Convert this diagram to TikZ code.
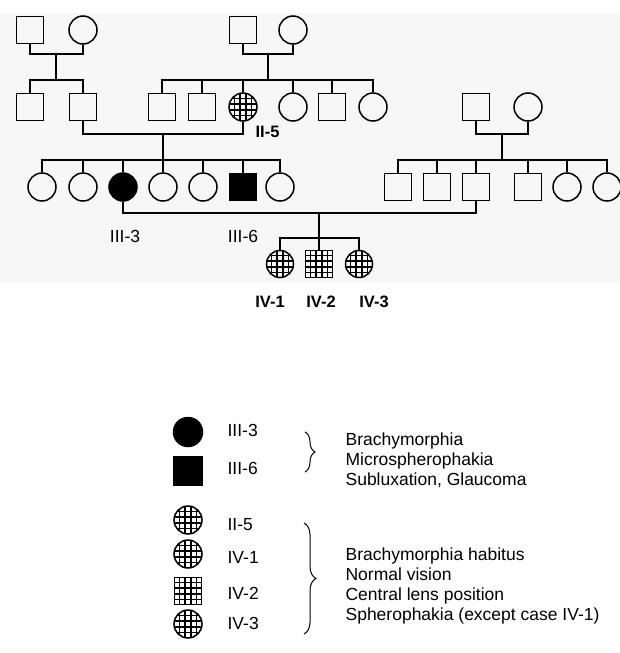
\documentclass[tikz,border=0pt]{standalone}
\usepackage{fontspec}
\setmainfont{Liberation Sans}
\usetikzlibrary{decorations.pathreplacing}
\begin{document}
\begin{tikzpicture}[x=1pt,y=-1pt,line width=1.2pt,
    male/.style={draw,rectangle,minimum size=27pt,inner sep=0pt,line width=1.5pt},
    female/.style={draw,circle,minimum size=28pt,inner sep=0pt,line width=1.5pt},
    hatch/.style={path picture={\foreach \k in {-1.5,-0.5,0.5,1.5}{
        \draw[line width=1.7pt] ([xshift=\k*5.6pt]path picture bounding box.north) -- ([xshift=\k*5.6pt]path picture bounding box.south);
        \draw[line width=1.7pt] ([yshift=\k*5.6pt]path picture bounding box.west) -- ([yshift=\k*5.6pt]path picture bounding box.east);}}},
    lab/.style={font=\fontsize{17.5}{20}\selectfont,inner sep=0pt,anchor=base},
    boldlab/.style={lab,font=\bfseries\fontsize{16.5}{20}\selectfont},
    curly/.style={decorate,decoration={brace,amplitude=#1},line width=1pt}]
  \fill[black!3] (0,13) rectangle (620,283);
  \useasboundingbox (0,0) rectangle (620,653);
  % generation I
  \node[male] (I1) at (30,30) {};
  \node[female] (I2) at (83,30) {};
  \node[male] (I3) at (243,30) {};
  \node[female] (I4) at (293,30) {};
  % generation II
  \foreach \n/\x in {1/30,2/83,3/162,4/202,7/332} \node[male] (II\n) at (\x,107) {};
  \foreach \n/\x in {6/293,8/373} \node[female] (II\n) at (\x,107) {};
  \node[female,hatch] (II5) at (243,107) {};
  \node[male] (IIa) at (476,107) {};
  \node[female] (IIb) at (528,107) {};
  % generation III
  \foreach \n/\x in {1/42,2/83,4/163,5/203,7/280} \node[female] (III\n) at (\x,187) {};
  \node[female,fill] (III3) at (123,187) {};
  \node[male,fill] (III6) at (243,187) {};
  \foreach \n/\x in {8/398,9/437,10/476,11/528} \node[male] (III\n) at (\x,187) {};
  \foreach \n/\x in {12/567,13/607} \node[female] (III\n) at (\x,187) {};
  % generation IV
  \node[female,hatch,minimum size=27pt] (IV1) at (280,264) {};
  \node[male,hatch] (IV2) at (319,264) {};
  \node[female,hatch,minimum size=27pt] (IV3) at (359,264) {};
  % lines of descent
  \coordinate (m1) at (56,54); \coordinate (s1) at (56,80);
  \draw (I1.south) |- (m1) -| (I2.south);
  \draw (m1) -- (s1);
  \draw (II1.north) |- (s1) -| (II2.north);
  \coordinate (m2) at (268,54); \coordinate (s2) at (268,80);
  \draw (I3.south) |- (m2) -| (I4.south);
  \draw (m2) -- (s2);
  \draw (II3.north) |- (s2) -| (II8.north);
  \foreach \n in {4,5,6,7} \draw (II\n.north) -- (II\n.north |- s2);
  \coordinate (m3) at (163,134); \coordinate (s3) at (163,160);
  \draw (II2.south) |- (m3) -| (II5.south);
  \draw (m3) -- (s3);
  \draw (III1.north) |- (s3) -| (III7.north);
  \foreach \n in {2,...,6} \draw (III\n.north) -- (III\n.north |- s3);
  \coordinate (m4) at (502,134); \coordinate (s4) at (502,160);
  \draw (IIa.south) |- (m4) -| (IIb.south);
  \draw (m4) -- (s4);
  \draw (III8.north) |- (s4) -| (III13.north);
  \foreach \n in {9,...,12} \draw (III\n.north) -- (III\n.north |- s4);
  \coordinate (m5) at (319,213); \coordinate (s5) at (319,238);
  \draw (III3.south) |- (m5) -| (III10.south);
  \draw (m5) -- (s5);
  \draw (IV1.north) |- (s5) -| (IV3.north);
  \draw (IV2.north) -- (s5);
  % case labels
  \node[boldlab,anchor=base west] (l5) at (255,137) {II-5};
  \node[lab] (l3) at (125,242) {III-3};
  \node[lab] (l6) at (243,242) {III-6};
  \node[boldlab] (l41) at (270,307) {IV-1};
  \node[boldlab] (l42) at (321,307) {IV-2};
  \node[boldlab] (l43) at (374,307) {IV-3};
  % key
  \node[female,fill,minimum size=29pt] (k1) at (188,432) {};
  \node[male,fill,minimum size=28pt] (k2) at (188,471) {};
  \node[female,hatch] (k3) at (188,520) {};
  \node[female,hatch] (k4) at (188,554) {};
  \node[male,hatch] (k5) at (188,591) {};
  \node[female,hatch] (k6) at (188,624) {};
  \foreach \k/\y/\t in {1/436/III-3,2/474/III-6,3/530/II-5,4/563/IV-1,5/599/IV-2,6/629/IV-3}
    \node[lab,anchor=base west] (kt\k) at (227,\y) {\t};
  \coordinate (b1) at (305,432); \coordinate (b2) at (305,472);
  \coordinate (b3) at (304,523); \coordinate (b4) at (304,634);
  \draw[curly=10pt] (b1) -- (b2);
  \draw[curly=12pt] (b3) -- (b4);
  \node[lab,anchor=base west,align=left] (d1) at (345,485) {Brachymorphia\\Microspherophakia\\Subluxation, Glaucoma};
  \node[lab,anchor=base west,align=left] (d2) at (345,620) {Brachymorphia habitus\\Normal vision\\Central lens position\\Spherophakia (except case IV-1)};
\end{tikzpicture}
\end{document}
